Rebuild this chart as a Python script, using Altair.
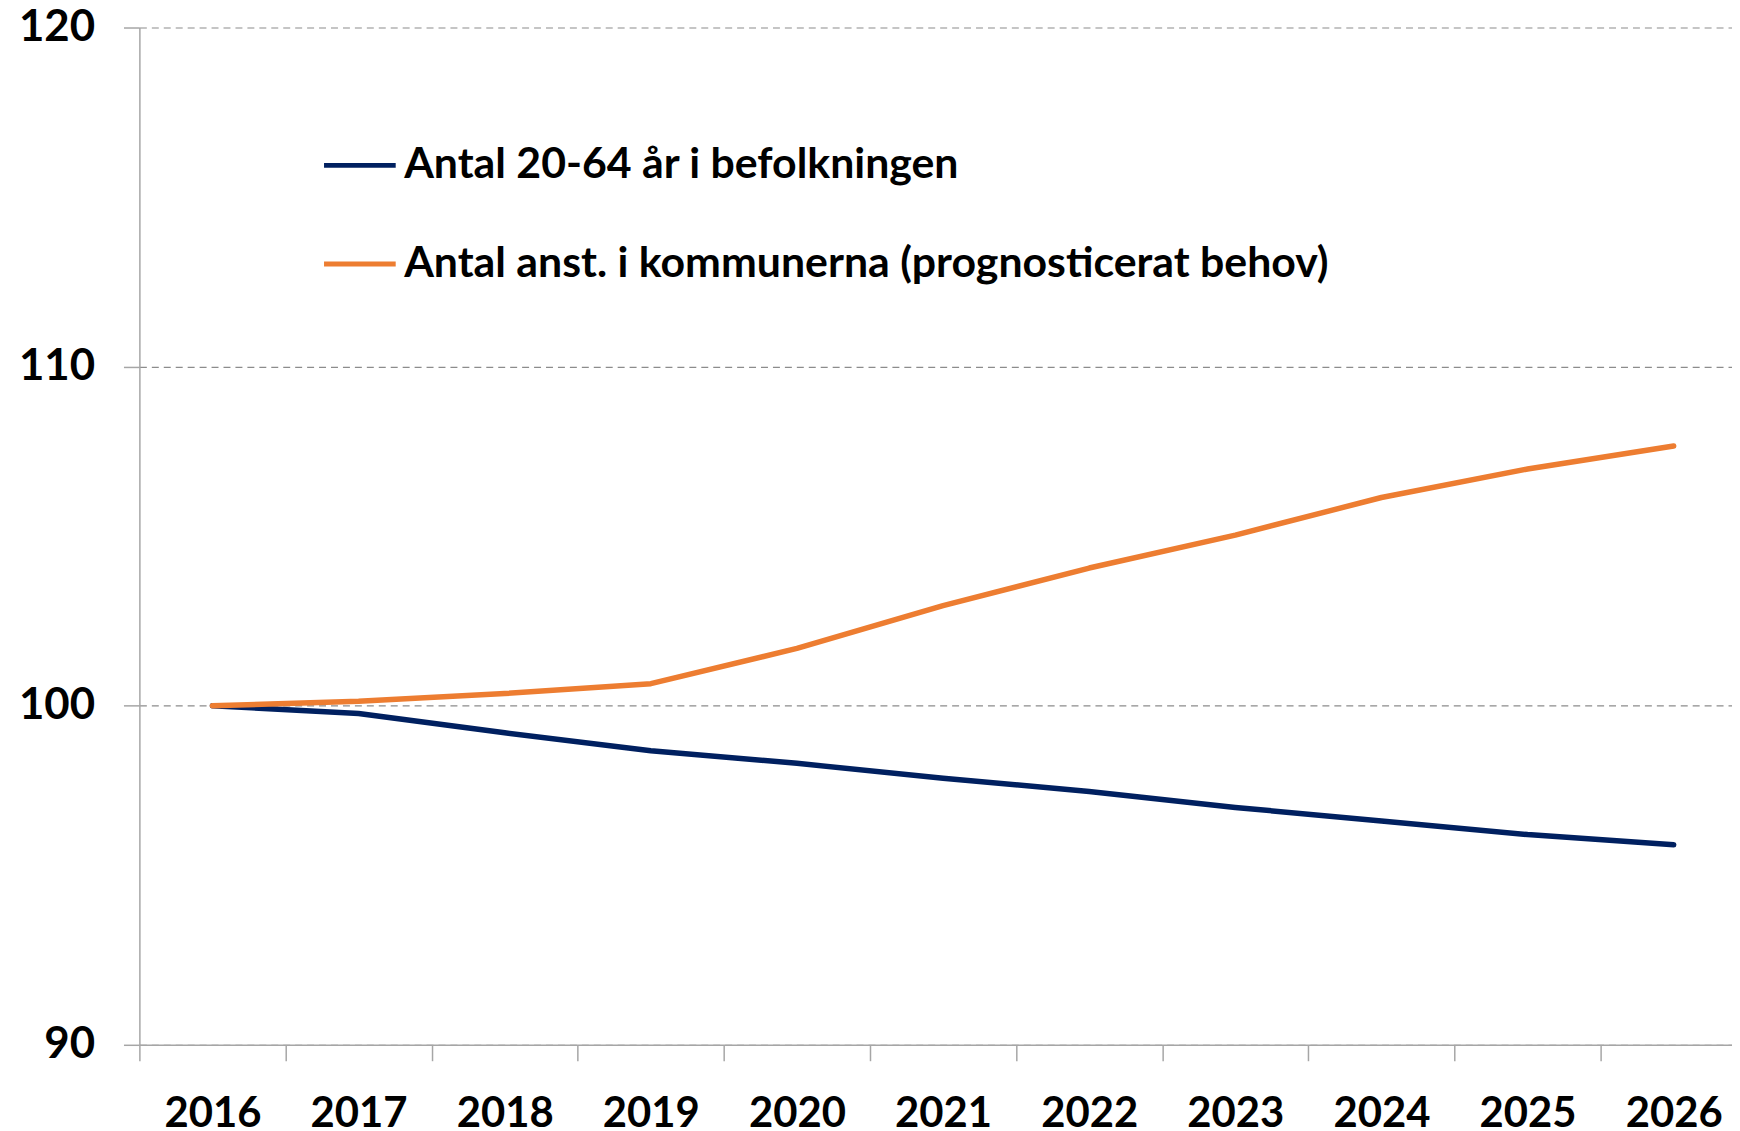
import altair as alt
import pandas as pd

years = [2016, 2017, 2018, 2019, 2020, 2021, 2022, 2023, 2024, 2025, 2026]
population = [100.0, 99.77, 99.2, 98.67, 98.3, 97.86, 97.47, 97.0, 96.6, 96.2, 95.9]
employees = [100.0, 100.13, 100.36, 100.65, 101.69, 102.95, 104.06, 105.03, 106.14, 106.98, 107.66]
series_names = ["Antal 20-64 år i befolkningen", "Antal anst. i kommunerna (prognosticerat behov)"]
series_colors = ["#002060", "#ED7D31"]
y_ticks = [90, 100, 110, 120]
# category boundaries (ticks sit between the years)
x_bounds = [2015.5, 2016.5, 2017.5, 2018.5, 2019.5, 2020.5, 2021.5, 2022.5, 2023.5, 2024.5, 2025.5]

rows = []
for name, vals in zip(series_names, [population, employees]):
    for yr, v in zip(years, vals):
        rows.append({"Year": yr, "Value": v, "Series": name})
df = pd.DataFrame(rows)

FONT = "Lato"
W = 1600
STEP = 146.8
x_max = 2015.5 + W / STEP

chart = alt.Chart(df).mark_line(strokeWidth=5.5, strokeCap="round", strokeJoin="round").encode(
    x=alt.X("Year:Q",
            scale=alt.Scale(domain=[2015.5, x_max], nice=False, zero=False),
            axis=alt.Axis(title=None, values=x_bounds, labelExpr="format(datum.value + 0.5, 'd')",
                          labelOffset=STEP / 2, labelAlign="center", labelFlush=False,
                          labelOverlap=False, labelBound=False,
                          labelAngle=0, tickSize=16, labelPadding=33, labelFontSize=42,
                          labelFont=FONT, labelFontWeight="bold", labelColor="#000000",
                          domainColor="#a6a6a6", tickColor="#a6a6a6", domainWidth=1.5,
                          tickWidth=1.5, grid=False)),
    y=alt.Y("Value:Q",
            scale=alt.Scale(domain=[90, 120], nice=False, zero=False),
            axis=alt.Axis(title=None, values=y_ticks, tickSize=16, labelPadding=29,
                          labelFontSize=44, labelFont=FONT, labelFontWeight="bold",
                          labelColor="#000000", domainColor="#a6a6a6", tickColor="#a6a6a6",
                          domainWidth=1.5, tickWidth=1.5,
                          grid=True, gridColor="#8c8c8c", gridDash=[7, 5], gridWidth=1.2)),
    color=alt.Color("Series:N",
                    scale=alt.Scale(domain=series_names, range=series_colors),
                    legend=alt.Legend(title=None, orient="none", legendX=183, legendY=100,
                                      symbolType="stroke", symbolSize=5184, symbolStrokeWidth=5,
                                      labelFontSize=43, labelFont=FONT, labelFontWeight="bold",
                                      labelColor="#000000", labelOffset=6, rowPadding=38,
                                      padding=0, labelLimit=1400)),
).properties(
    width=W,
    height=1022,
    autosize=alt.AutoSizeParams(type="none"),
    padding={"left": 132, "top": 17, "right": 0, "bottom": 84},
).configure_view(stroke=None)

chart.save("out.html", embed_options={"renderer": "svg", "actions": False})
